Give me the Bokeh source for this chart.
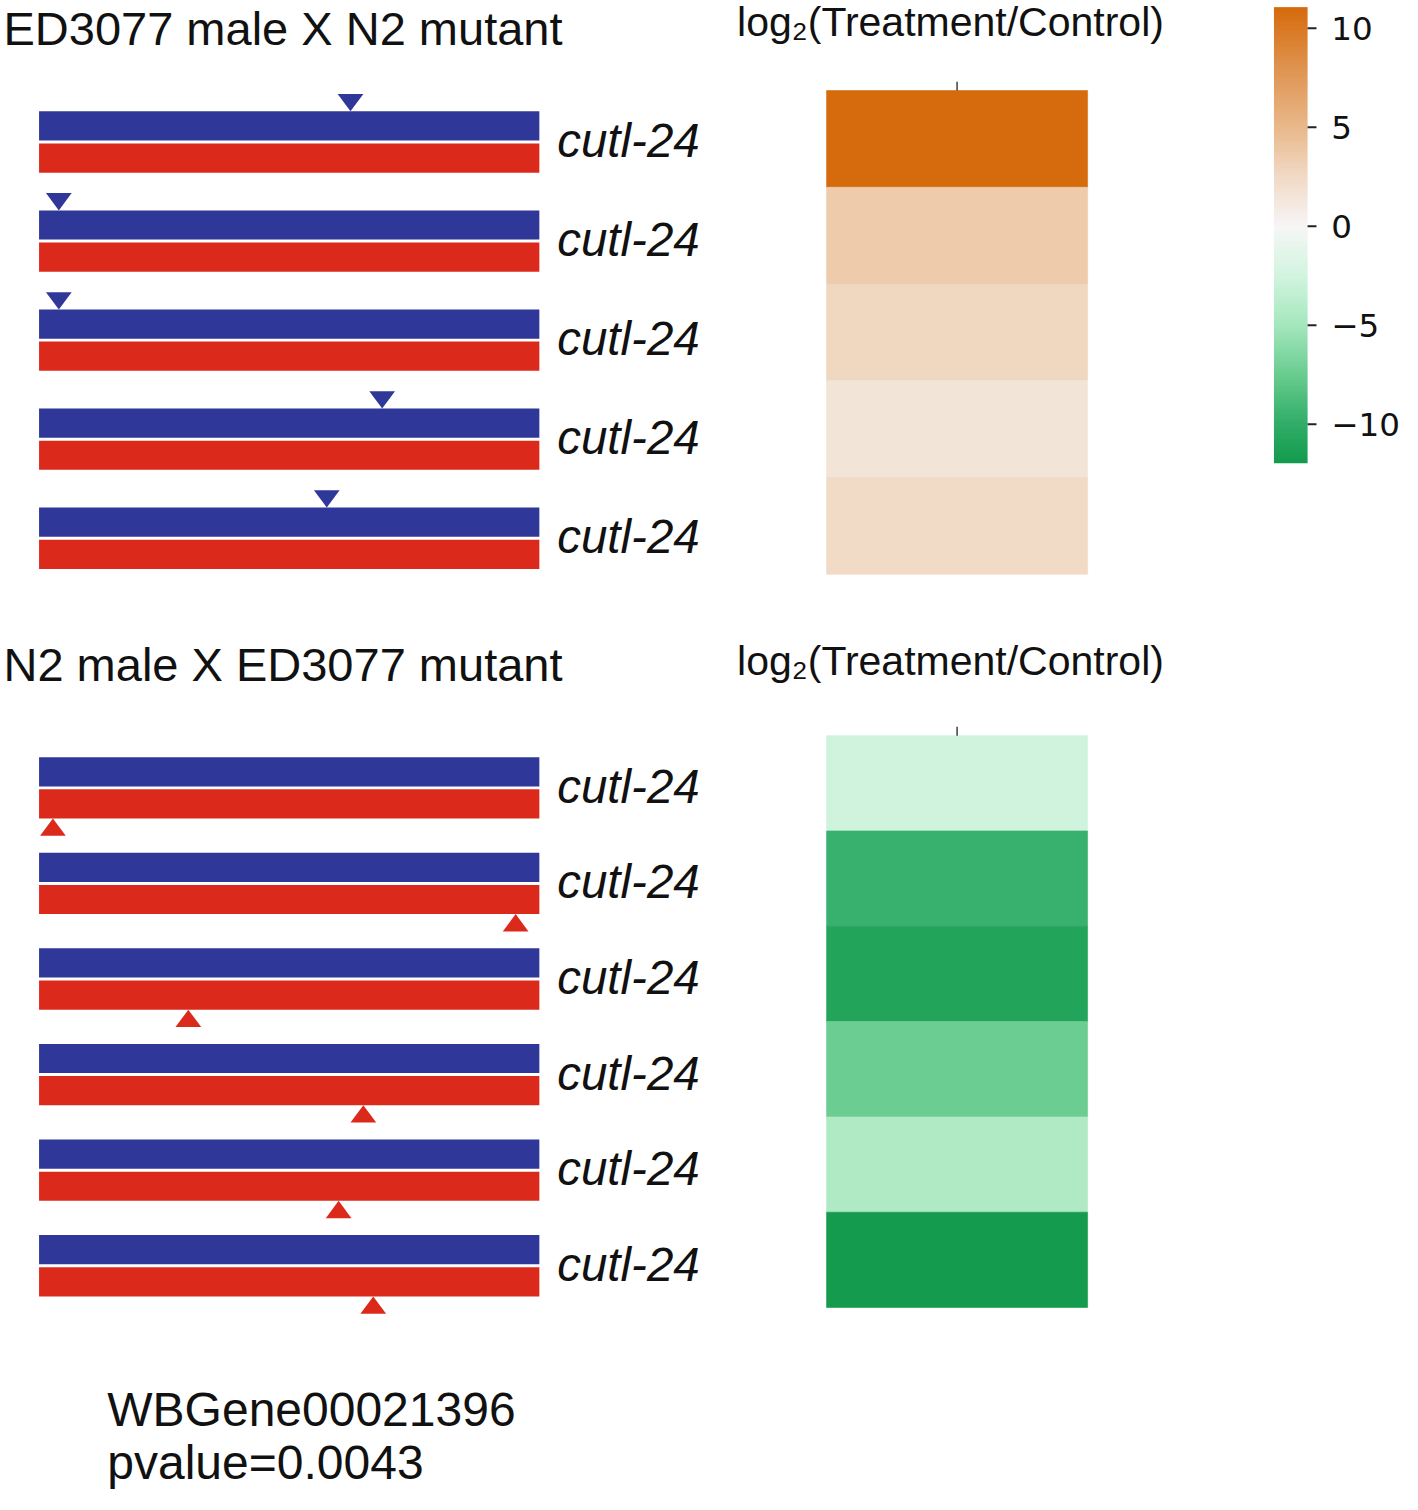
import numpy as np
from bokeh.plotting import figure
from bokeh.models import Range1d, LinearColorMapper, ColumnDataSource
from bokeh.core.properties import value
from bokeh.embed import file_html
from bokeh.resources import INLINE

# ---------------- data ----------------
gene_name = "cutl-24"
panel_titles = ["ED3077 male X N2 mutant", "N2 male X ED3077 mutant"]
heat_title = "log\u2082(Treatment/Control)"
# relative position of the variant along the gene (0 = start, 1 = end)
top_mut_pos = [0.6225, 0.0395, 0.0395, 0.6858, 0.5751]          # on paternal (blue) allele
bot_mut_pos = [0.0277, 0.9526, 0.2984, 0.6482, 0.5988, 0.6680]  # on maternal (red) allele
top_log2fc = [11.07, 3.6, 2.7, 1.55, 2.5]
bot_log2fc = [-2.67, -9.67, -10.95, -7.45, -4.39, -11.97]
cb_ticks = [10, 5, 0, -5, -10]
cb_tick_labels = ["10", "5", "0", "\u22125", "\u221210"]
gene_id = "WBGene00021396"
pvalue_text = "pvalue=0.0043"

# ---------------- layout (reference-pixel space) ----------------
REF_W, REF_H = 1418, 1510
W, H = 1402, 1494
S = W / REF_W

GENE_X0, GENE_X1 = 39, 545
TOP_ROW_FIRST, TOP_ROW_LAST = 143.0, 543.5
BOT_ROW_FIRST, BOT_ROW_LAST = 795.8, 1278.8
HM_X0, HM_X1 = 835.5, 1099.5
HM_TOP_Y0, HM_TOP_Y1 = 91, 580
HM_BOT_Y0, HM_BOT_Y1 = 743, 1321
CB_X0, CB_X1 = 1288, 1322
CB_Y_TOP, CB_Y_BOT = 6.7, 467.7

BLUE = "#2f3798"
RED = "#db2a1c"
TXT = "#111111"
SANS = value("Liberation Sans")


def rng(d0, d1, p0, p1, total, axis):
    k = (d1 - d0) / (p1 - p0)
    at0 = d0 + (0 - p0) * k
    atT = d0 + (total - p0) * k
    if axis == "x":
        return Range1d(at0, atT)
    return Range1d(atT, at0)


lo = min(bot_log2fc + top_log2fc)
hi = max(bot_log2fc + top_log2fc)

# colour map (diverging green - white - orange)
stops_v = [lo, -10, -7.5, -5, -2.5, 0, 2.5, 5, 8, hi]
stops_c = ["#149b4d", "#31ad69", "#6acd90", "#a5e7bd", "#d2f4df",
           "#f7f6f6", "#f1dac6", "#e9b98c", "#df9450", "#d66b0d"]


def hex2rgb(h):
    return [int(h[i:i + 2], 16) for i in (1, 3, 5)]


rgb = np.array([hex2rgb(c) for c in stops_c], dtype=float)
vals = np.linspace(lo, hi, 256)
palette = []
for v in vals:
    r = np.interp(v, stops_v, rgb[:, 0])
    g = np.interp(v, stops_v, rgb[:, 1])
    b = np.interp(v, stops_v, rgb[:, 2])
    palette.append("#%02x%02x%02x" % (int(round(r)), int(round(g)), int(round(b))))
mapper = LinearColorMapper(palette=palette, low=lo, high=hi)

p = figure(width=W, height=H, x_range=Range1d(0, REF_W), y_range=Range1d(REF_H, 0),
           output_backend="svg", toolbar_location=None,
           x_axis_location=None, y_axis_location=None, min_border=0)
p.grid.visible = False
p.outline_line_color = None
p.background_fill_color = "white"
p.border_fill_color = "white"

n_top, n_bot = len(top_mut_pos), len(bot_mut_pos)
p.extra_x_ranges = {
    "gene": rng(0, 1, GENE_X0, GENE_X1, REF_W, "x"),
    "hm": rng(-0.5, 0.5, HM_X0, HM_X1, REF_W, "x"),
    "cb": rng(0, 1, CB_X0, CB_X1, REF_W, "x"),
}
p.extra_y_ranges = {
    "gt": rng(0, n_top - 1, TOP_ROW_FIRST, TOP_ROW_LAST, REF_H, "y"),
    "gb": rng(0, n_bot - 1, BOT_ROW_FIRST, BOT_ROW_LAST, REF_H, "y"),
    "ht": rng(-0.5, n_top - 0.5, HM_TOP_Y0, HM_TOP_Y1, REF_H, "y"),
    "hb": rng(-0.5, n_bot - 0.5, HM_BOT_Y0, HM_BOT_Y1, REF_H, "y"),
    "cb": rng(lo, hi, CB_Y_BOT, CB_Y_TOP, REF_H, "y"),
}

BAR_PX, GAP_PX = 29.5, 1.5
TRI_W_PX, TRI_H_PX = 26, 17.5
gene_px = GENE_X1 - GENE_X0


def gene_panel(positions, yname, pitch, on_blue):
    n = len(positions)
    rows = list(range(n))
    bh, gp = BAR_PX / pitch, GAP_PX / pitch
    p.quad(left=[0] * n, right=[1] * n, top=[r - gp - bh for r in rows],
           bottom=[r - gp for r in rows], fill_color=BLUE, line_color=None,
           x_range_name="gene", y_range_name=yname)
    p.quad(left=[0] * n, right=[1] * n, top=[r + gp for r in rows],
           bottom=[r + gp + bh for r in rows], fill_color=RED, line_color=None,
           x_range_name="gene", y_range_name=yname)
    hw = TRI_W_PX / 2 / gene_px
    th = TRI_H_PX / pitch
    xs, ys = [], []
    for r, m in zip(rows, positions):
        xs.append([m - hw, m + hw, m])
        if on_blue:
            tip = r - gp - bh
            ys.append([tip - th, tip - th, tip])
        else:
            tip = r + gp + bh
            ys.append([tip + th, tip + th, tip])
    p.patches(xs=xs, ys=ys, fill_color=BLUE if on_blue else RED, line_color=None,
              x_range_name="gene", y_range_name=yname)
    p.text(x=[1] * n, y=rows, text=[gene_name] * n, x_offset=18 * S, y_offset=-1.5 * S,
           text_font=SANS, text_font_style="italic", text_font_size=f"{48 * S:.1f}px",
           text_color=TXT, text_baseline="middle", text_align="left",
           x_range_name="gene", y_range_name=yname)


gene_panel(top_mut_pos, "gt", (TOP_ROW_LAST - TOP_ROW_FIRST) / (n_top - 1), True)
gene_panel(bot_mut_pos, "gb", (BOT_ROW_LAST - BOT_ROW_FIRST) / (n_bot - 1), False)


def heat_panel(values_, yname, y0px, y1px):
    n = len(values_)
    src = ColumnDataSource(dict(x=[0] * n, y=list(range(n)), v=values_))
    p.rect(x="x", y="y", width=1, height=1, source=src,
           fill_color={"field": "v", "transform": mapper},
           line_color={"field": "v", "transform": mapper}, line_width=0.6,
           x_range_name="hm", y_range_name=yname)
    pitch = (y1px - y0px) / n
    p.segment(x0=[0], x1=[0], y0=[-0.5], y1=[-0.5 - 9 / pitch], line_color="#222222",
              line_width=1.3, x_range_name="hm", y_range_name=yname)


heat_panel(top_log2fc, "ht", HM_TOP_Y0, HM_TOP_Y1)
heat_panel(bot_log2fc, "hb", HM_BOT_Y0, HM_BOT_Y1)

# colour bar
grad = np.linspace(lo, hi, 600).reshape(-1, 1)
p.image(image=[grad], x=0, y=lo, dw=1, dh=hi - lo, color_mapper=mapper,
        x_range_name="cb", y_range_name="cb")
tick_len = 9 / (CB_X1 - CB_X0)
p.segment(x0=[1] * len(cb_ticks), x1=[1 + tick_len] * len(cb_ticks), y0=cb_ticks, y1=cb_ticks,
          line_color="#222222", line_width=2, x_range_name="cb", y_range_name="cb")
p.text(x=[1] * len(cb_ticks), y=cb_ticks, text=cb_tick_labels, x_offset=24 * S, y_offset=0,
       text_font=value("DejaVu Sans"), text_font_size=f"{33 * S:.1f}px", text_color=TXT,
       text_baseline="middle", text_align="left", x_range_name="cb", y_range_name="cb")

# titles and footer (reference-pixel space)
p.text(x=[3, 3], y=[28, 671], text=panel_titles, text_font=SANS,
       text_font_size=f"{47.5 * S:.1f}px", text_color=TXT, text_baseline="middle")
p.text(x=[745, 745], y=[22, 668], text=[heat_title, heat_title], text_font=SANS,
       text_font_size=f"{41.5 * S:.1f}px", text_color=TXT, text_baseline="middle")
p.text(x=[108, 108], y=[1424, 1478], text=[gene_id, pvalue_text], text_font=SANS,
       text_font_size=f"{48.5 * S:.1f}px", text_color=TXT, text_baseline="middle")

open("out.html", "w").write(file_html(p, INLINE))
